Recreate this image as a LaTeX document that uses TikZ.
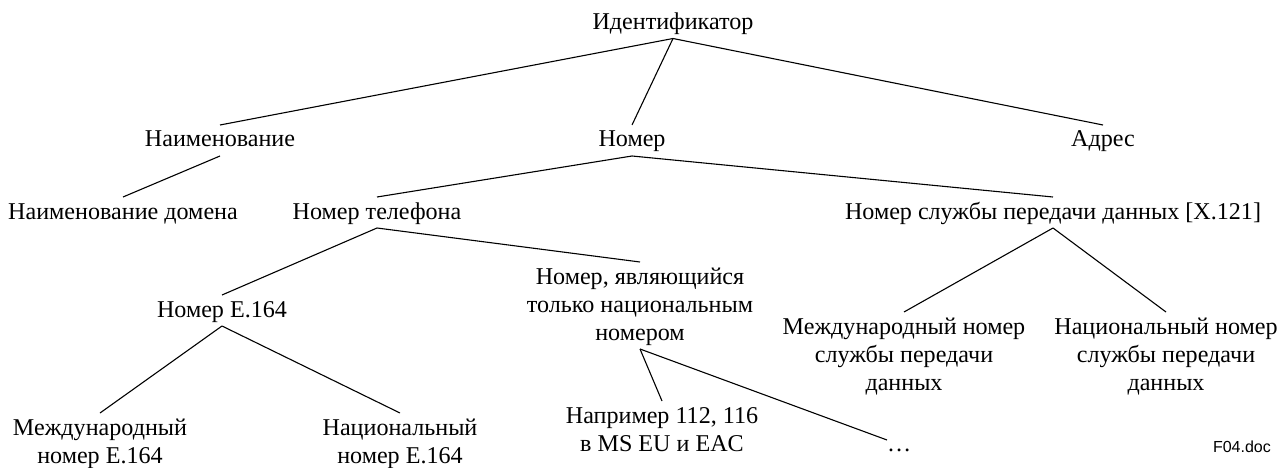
\documentclass[tikz,border=0pt]{standalone}
\usepackage{fontspec}
\setmainfont{Liberation Serif}
\newfontfamily\docfont{Liberation Sans}
\newcommand\tstr{\rule{0pt}{22pt}}
\newcommand\bstr{\rule[-9pt]{0pt}{9pt}}
\begin{document}
\begin{tikzpicture}[x=1pt,y=-1pt,
  lbl/.style={inner sep=0pt, outer sep=0pt, align=center, anchor=north,
              font=\fontsize{24.1}{28}\selectfont},
  conn/.style={line width=1.1pt, draw=black}]
\useasboundingbox (0,0) rectangle (1280,468);
% nodes
\node[lbl] (id)   at (673,7.5) {\tstr Идентификатор\bstr};
\node[lbl] (nam)  at (220,125) {\tstr Наименование\bstr};
\node[lbl] (nom)  at (632,125) {\tstr Номер\bstr};
\node[lbl] (adr)  at (1103,125) {\tstr Адрес\bstr};
\node[lbl] (namd) at (123,197) {\tstr Наименование домена\bstr};
\node[lbl] (tel)  at (377,197) {\tstr Номер телефона\bstr};
\node[lbl] (dat)  at (1053,197) {\tstr Номер службы передачи данных [X.121]\bstr};
\node[lbl] (e164) at (222,295) {\tstr Номер E.164\bstr};
\node[lbl] (nat)  at (640,262) {\tstr Номер, являющийся\\только национальным\\номером\bstr};
\node[lbl] (dint) at (904,312) {\tstr Международный номер\\службы передачи\\данных\bstr};
\node[lbl] (dnat) at (1166,312) {\tstr Национальный номер\\службы передачи\\данных\bstr};
\node[lbl] (eint) at (100,413) {\tstr Международный\\номер E.164\bstr};
\node[lbl] (enat) at (400,413) {\tstr Национальный\\номер E.164\bstr};
\node[lbl] (ex)   at (662,401) {\tstr Например 112, 116\\в MS EU и EAC\bstr};
\node[inner sep=0pt, outer sep=0pt, anchor=north west, text height=11pt, text depth=0pt,
      font=\fontsize{24.1}{28}\selectfont] (dots) at (887,440) {…};
\node[inner sep=0pt, anchor=base east, font=\docfont\fontsize{16}{18}\selectfont] (f04) at (1271,452) {F04.doc};
% connectors
\draw[conn] (id.south) -- (nam.north);
\draw[conn] (id.south) -- (nom.north);
\draw[conn] (id.south) -- (adr.north);
\draw[conn] (nam.south) -- (namd.north);
\draw[conn] (nom.south) -- (tel.north);
\draw[conn] (nom.south) -- (dat.north);
\draw[conn] (tel.south) -- (e164.north);
\draw[conn] (tel.south) -- (nat.north);
\draw[conn] (e164.south) -- (eint.north);
\draw[conn] (e164.south) -- (enat.north);
\draw[conn] (nat.south) -- (ex.north);
\draw[conn] (nat.south) -- (dots.north west);
\draw[conn] (dat.south) -- (dint.north);
\draw[conn] (dat.south) -- (dnat.north);
\end{tikzpicture}
\end{document}
